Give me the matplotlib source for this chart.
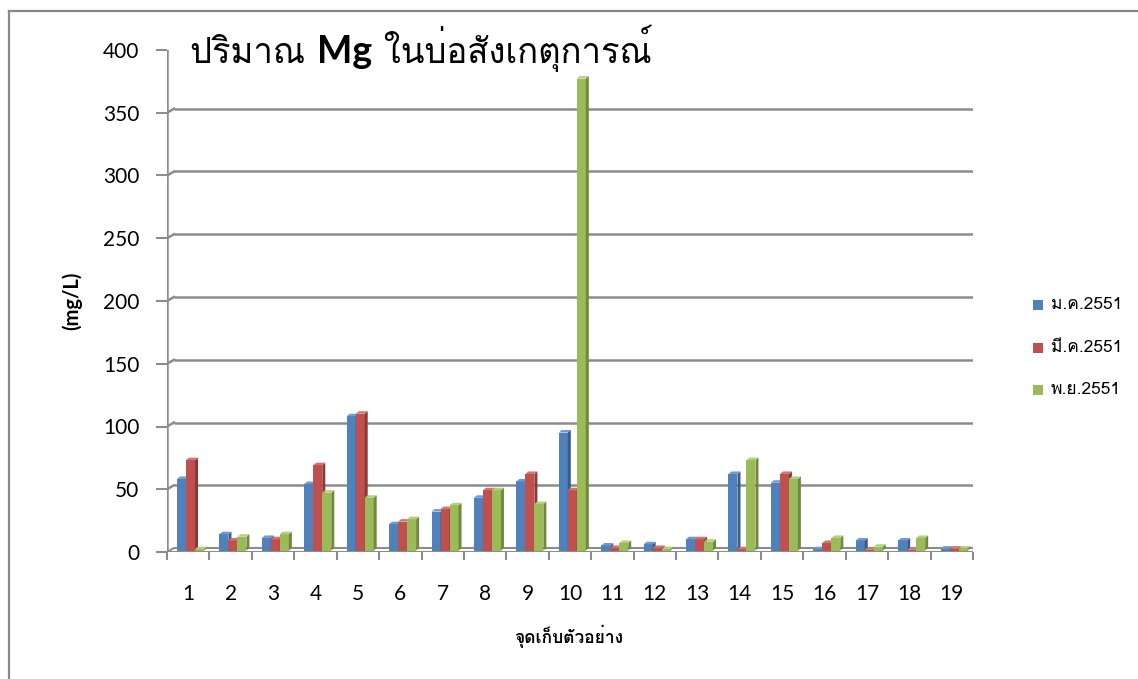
import matplotlib
matplotlib.use("Agg")
import matplotlib.pyplot as plt
from matplotlib.patches import Polygon, Rectangle
from matplotlib.lines import Line2D
from matplotlib import font_manager as fm
from matplotlib.ft2font import FT2Font

# ---- data -------------------------------------------------------------
stations = [str(i) for i in range(1, 20)]
series_names = ["ม.ค.2551", "มี.ค.2551", "พ.ย.2551"]
mg_jan = [57, 13, 10, 53, 107, 21, 31, 42, 55, 94, 4, 5, 9, 61, 54, 1, 8, 8, 1.5]
mg_mar = [72, 8, 9, 68, 109, 23, 33, 48, 61, 48, 2, 2, 9, 1, 61, 6, 0.5, 0.5, 1.5]
mg_nov = [1, 11, 13, 46, 42, 25, 36, 48, 37, 376, 6, 1, 7, 72, 57, 10, 3, 10, 1.5]
y_ticks = [0, 50, 100, 150, 200, 250, 300, 350, 400]

title_pre = "ปริมาณ "
title_mid = "Mg"
title_post = " ในบ่อสังเกตุการณ์"
x_label = "จุดเก็บตัวอย่าง"
y_label = "(mg/L)"

front_colors = ["#4F81BD", "#C0504D", "#9BBB59"]
side_colors = ["#385D8A", "#8C3836", "#71893F"]
top_colors = ["#6F9AD0", "#D27471", "#B3CF7A"]
grid_color = "#8C8C8C"


def font_with(ch):
    seen = set()
    for f in fm.fontManager.ttflist:
        if f.fname in seen:
            continue
        seen.add(f.fname)
        try:
            cmap = FT2Font(f.fname).get_charmap()
        except Exception:
            continue
        if ord(ch) in cmap:
            return f.name
    return None


thai = font_with("ป")
thai_fam = [thai, "DejaVu Sans"] if thai else ["DejaVu Sans"]
num_fam = ["Lato", "DejaVu Sans"]

W, H = 1138, 679
fig = plt.figure(figsize=(W / 100, H / 100), dpi=100)
fig.patch.set_facecolor("white")

# plot area (front plane): x 167..973 px, y(0)=552 px, y(400)=50 px
ax = fig.add_axes([167 / W, (H - 552) / H, 806 / W, 502 / H])
ax.set_xlim(0.5, 19.5)
ax.set_ylim(0, 400)
ax.set_facecolor("none")
for s in ax.spines.values():
    s.set_visible(False)

ppx = 806 / 19.0      # pixels per category
ppy = 502 / 400.0     # pixels per mg/L


def dx(p):
    return p / ppx


def dy(p):
    return p / ppy


# back-wall offset of the 3-D frame
bw_x, bw_y = dx(7), dy(4)

# gridlines on the back wall with their short diagonal joins to the axis
for v in y_ticks[1:]:
    ax.plot([0.5 + bw_x, 19.5 + bw_x], [v + bw_y, v + bw_y], color=grid_color,
            lw=1.8, zorder=1, solid_capstyle="butt")
    ax.plot([0.5, 0.5 + bw_x], [v, v + bw_y], color=grid_color, lw=1.8, zorder=1)

# vertical axis line
ax.plot([0.5, 0.5], [0, 400], color=grid_color, lw=1.8, zorder=1)

# floor
floor = Polygon([[0.5, 0], [19.5, 0], [19.5 + bw_x, bw_y], [0.5 + bw_x, bw_y]],
                closed=True, facecolor="white", edgecolor=grid_color, lw=1.5, zorder=1)
ax.add_patch(floor)

# bars with a small 3-D side and top
bar_w = dx(9)
side_x, side_y = dx(3), dy(2.5)
base_y = dy(1.5)
for i in range(19):
    center = i + 1
    for s, vals in enumerate([mg_jan, mg_mar, mg_nov]):
        v = vals[i]
        x0 = center + dx(-11.2 + 9 * s)
        z = 2 + s
        ax.bar(x0, v, width=bar_w, bottom=base_y, align="edge",
               color=front_colors[s], edgecolor="none", zorder=z)
        top = base_y + v
        ax.add_patch(Polygon([[x0 + bar_w, base_y], [x0 + bar_w + side_x, base_y + side_y],
                              [x0 + bar_w + side_x, top + side_y], [x0 + bar_w, top]],
                             closed=True, facecolor=side_colors[s], edgecolor="none", zorder=z))
        ax.add_patch(Polygon([[x0, top], [x0 + bar_w, top],
                              [x0 + bar_w + side_x, top + side_y], [x0 + side_x, top + side_y]],
                             closed=True, facecolor=top_colors[s], edgecolor="none", zorder=z))

# ticks
ax.set_yticks(y_ticks)
ax.set_yticklabels([str(t) for t in y_ticks], fontfamily=num_fam, fontsize=15)
ax.tick_params(axis="y", length=8, width=1.5, color=grid_color, pad=12, direction="out")
ax.set_xticks(range(1, 20))
ax.set_xticklabels(stations, fontfamily=num_fam, fontsize=15)
ax.set_xticks([b + 0.5 for b in range(0, 20)], minor=True)
ax.tick_params(axis="x", which="major", length=0, pad=23)
ax.tick_params(axis="x", which="minor", length=6, width=1.5, color=grid_color, direction="out")

# axis titles
fig.text(72 / W, 1 - 301 / H, y_label, rotation=90, ha="center", va="center",
         fontsize=14.5, fontweight="bold", fontfamily=num_fam)
fig.text(569 / W, 1 - 636 / H, x_label, ha="center", va="center",
         fontsize=12.5, fontweight="bold", fontfamily=thai_fam)

# chart title with emphasised symbol
fig.canvas.draw()
r = fig.canvas.get_renderer()
tx = 190 / W
ty = 1 - 63 / H
t1 = fig.text(tx, ty, title_pre, fontsize=25, fontfamily=thai_fam, va="baseline")
w1 = t1.get_window_extent(r).width / W
t2 = fig.text(tx + w1, ty, title_mid, fontsize=27, fontweight="bold",
              fontfamily=num_fam, va="baseline")
w2 = t2.get_window_extent(r).width / W
fig.text(tx + w1 + w2, ty, title_post, fontsize=25, fontfamily=thai_fam, va="baseline")

# legend
for s, name in enumerate(series_names):
    yc = 305 + 42.5 * s
    fig.add_artist(Rectangle((1033 / W, 1 - (yc + 5) / H), 10 / W, 10 / H,
                             facecolor=front_colors[s], edgecolor="none",
                             transform=fig.transFigure))
    fig.text(1051 / W, 1 - yc / H, name, fontsize=12.5, va="center", ha="left",
             fontfamily=thai_fam)

# outer chart frame
fig.add_artist(Line2D([9 / W, 9 / W], [0, 1 - 11 / H], color="#888888", lw=1.6,
                      transform=fig.transFigure))
fig.add_artist(Line2D([9 / W, 1], [1 - 11 / H, 1 - 11 / H], color="#888888", lw=1.6,
                      transform=fig.transFigure))

fig.savefig("out.png", dpi=100, facecolor="white")
